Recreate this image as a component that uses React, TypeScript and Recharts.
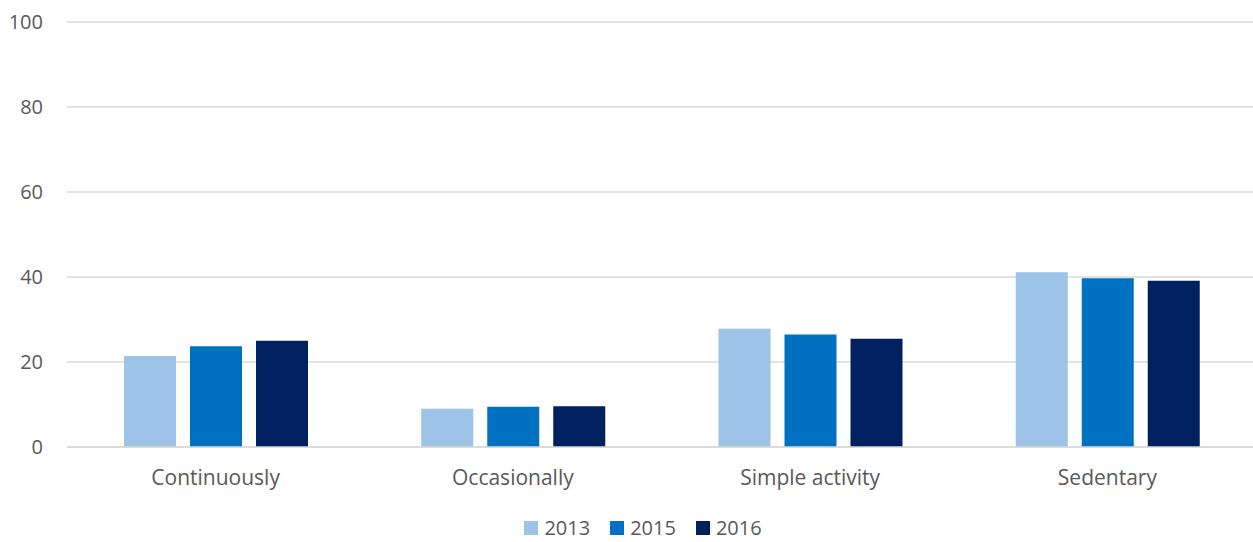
import { Bar, BarChart, CartesianGrid, Legend, XAxis, YAxis } from "recharts";

const categories = ["Continuously", "Occasionally", "Simple activity", "Sedentary"];
const years = ["2013", "2015", "2016"];
const v2013 = [21.4, 9.0, 27.8, 41.1];
const v2015 = [23.7, 9.5, 26.5, 39.7];
const v2016 = [25.0, 9.6, 25.5, 39.1];
const yTicks = [0, 20, 40, 60, 80, 100];
const colors = ["#9DC3E6", "#0070C0", "#002060"];

const series = [v2013, v2015, v2016];
const data = categories.map((name, i) => {
  const row: Record<string, string | number> = { name };
  years.forEach((y, k) => (row[y] = series[k][i]));
  return row;
});

const FONT = "'Open Sans', sans-serif";
const INK = "#595959";

function LegendBox() {
  return (
    <div style={{
      display: "flex", justifyContent: "center", alignItems: "center", height: 30, boxSizing: "border-box",
      paddingTop: 2, paddingLeft: 30, gap: 20, fontFamily: FONT, fontSize: 20, lineHeight: "24px", color: INK,
    }}>
      {years.map((y, k) => (
        <div key={y} style={{ display: "flex", alignItems: "center", gap: 6 }}>
          <span style={{ width: 14, height: 14, background: colors[k], display: "inline-block" }} />
          <span>{y}</span>
        </div>
      ))}
    </div>
  );
}

export default function App() {
  return (
    <div style={{ width: 1253, height: 542, background: "#fff", overflow: "hidden" }}>
      <style>{"body{margin:0}"}</style>
      <BarChart width={1256} height={542} data={data} margin={{ top: 22, right: 0, bottom: 0, left: 0 }} barGap={14}>
        <CartesianGrid stroke="#D9D9D9" strokeWidth={1.5} vertical={false} />
        <XAxis
          dataKey="name" tickLine={false} tickSize={0} tickMargin={23} height={65}
          axisLine={{ stroke: "#D9D9D9", strokeWidth: 1.5 }}
          tick={{ fill: INK, fontSize: 21, fontFamily: FONT }}
        />
        <YAxis
          domain={[0, 100]} ticks={yTicks} width={67} axisLine={false} tickLine={false} tickSize={0} tickMargin={24}
          tick={{ fill: INK, fontSize: 20, fontFamily: FONT }}
        />
        <Legend verticalAlign="bottom" content={() => <LegendBox />} />
        {years.map((y, k) => (
          <Bar key={y} dataKey={y} fill={colors[k]} barSize={52} isAnimationActive={false} />
        ))}
      </BarChart>
    </div>
  );
}
